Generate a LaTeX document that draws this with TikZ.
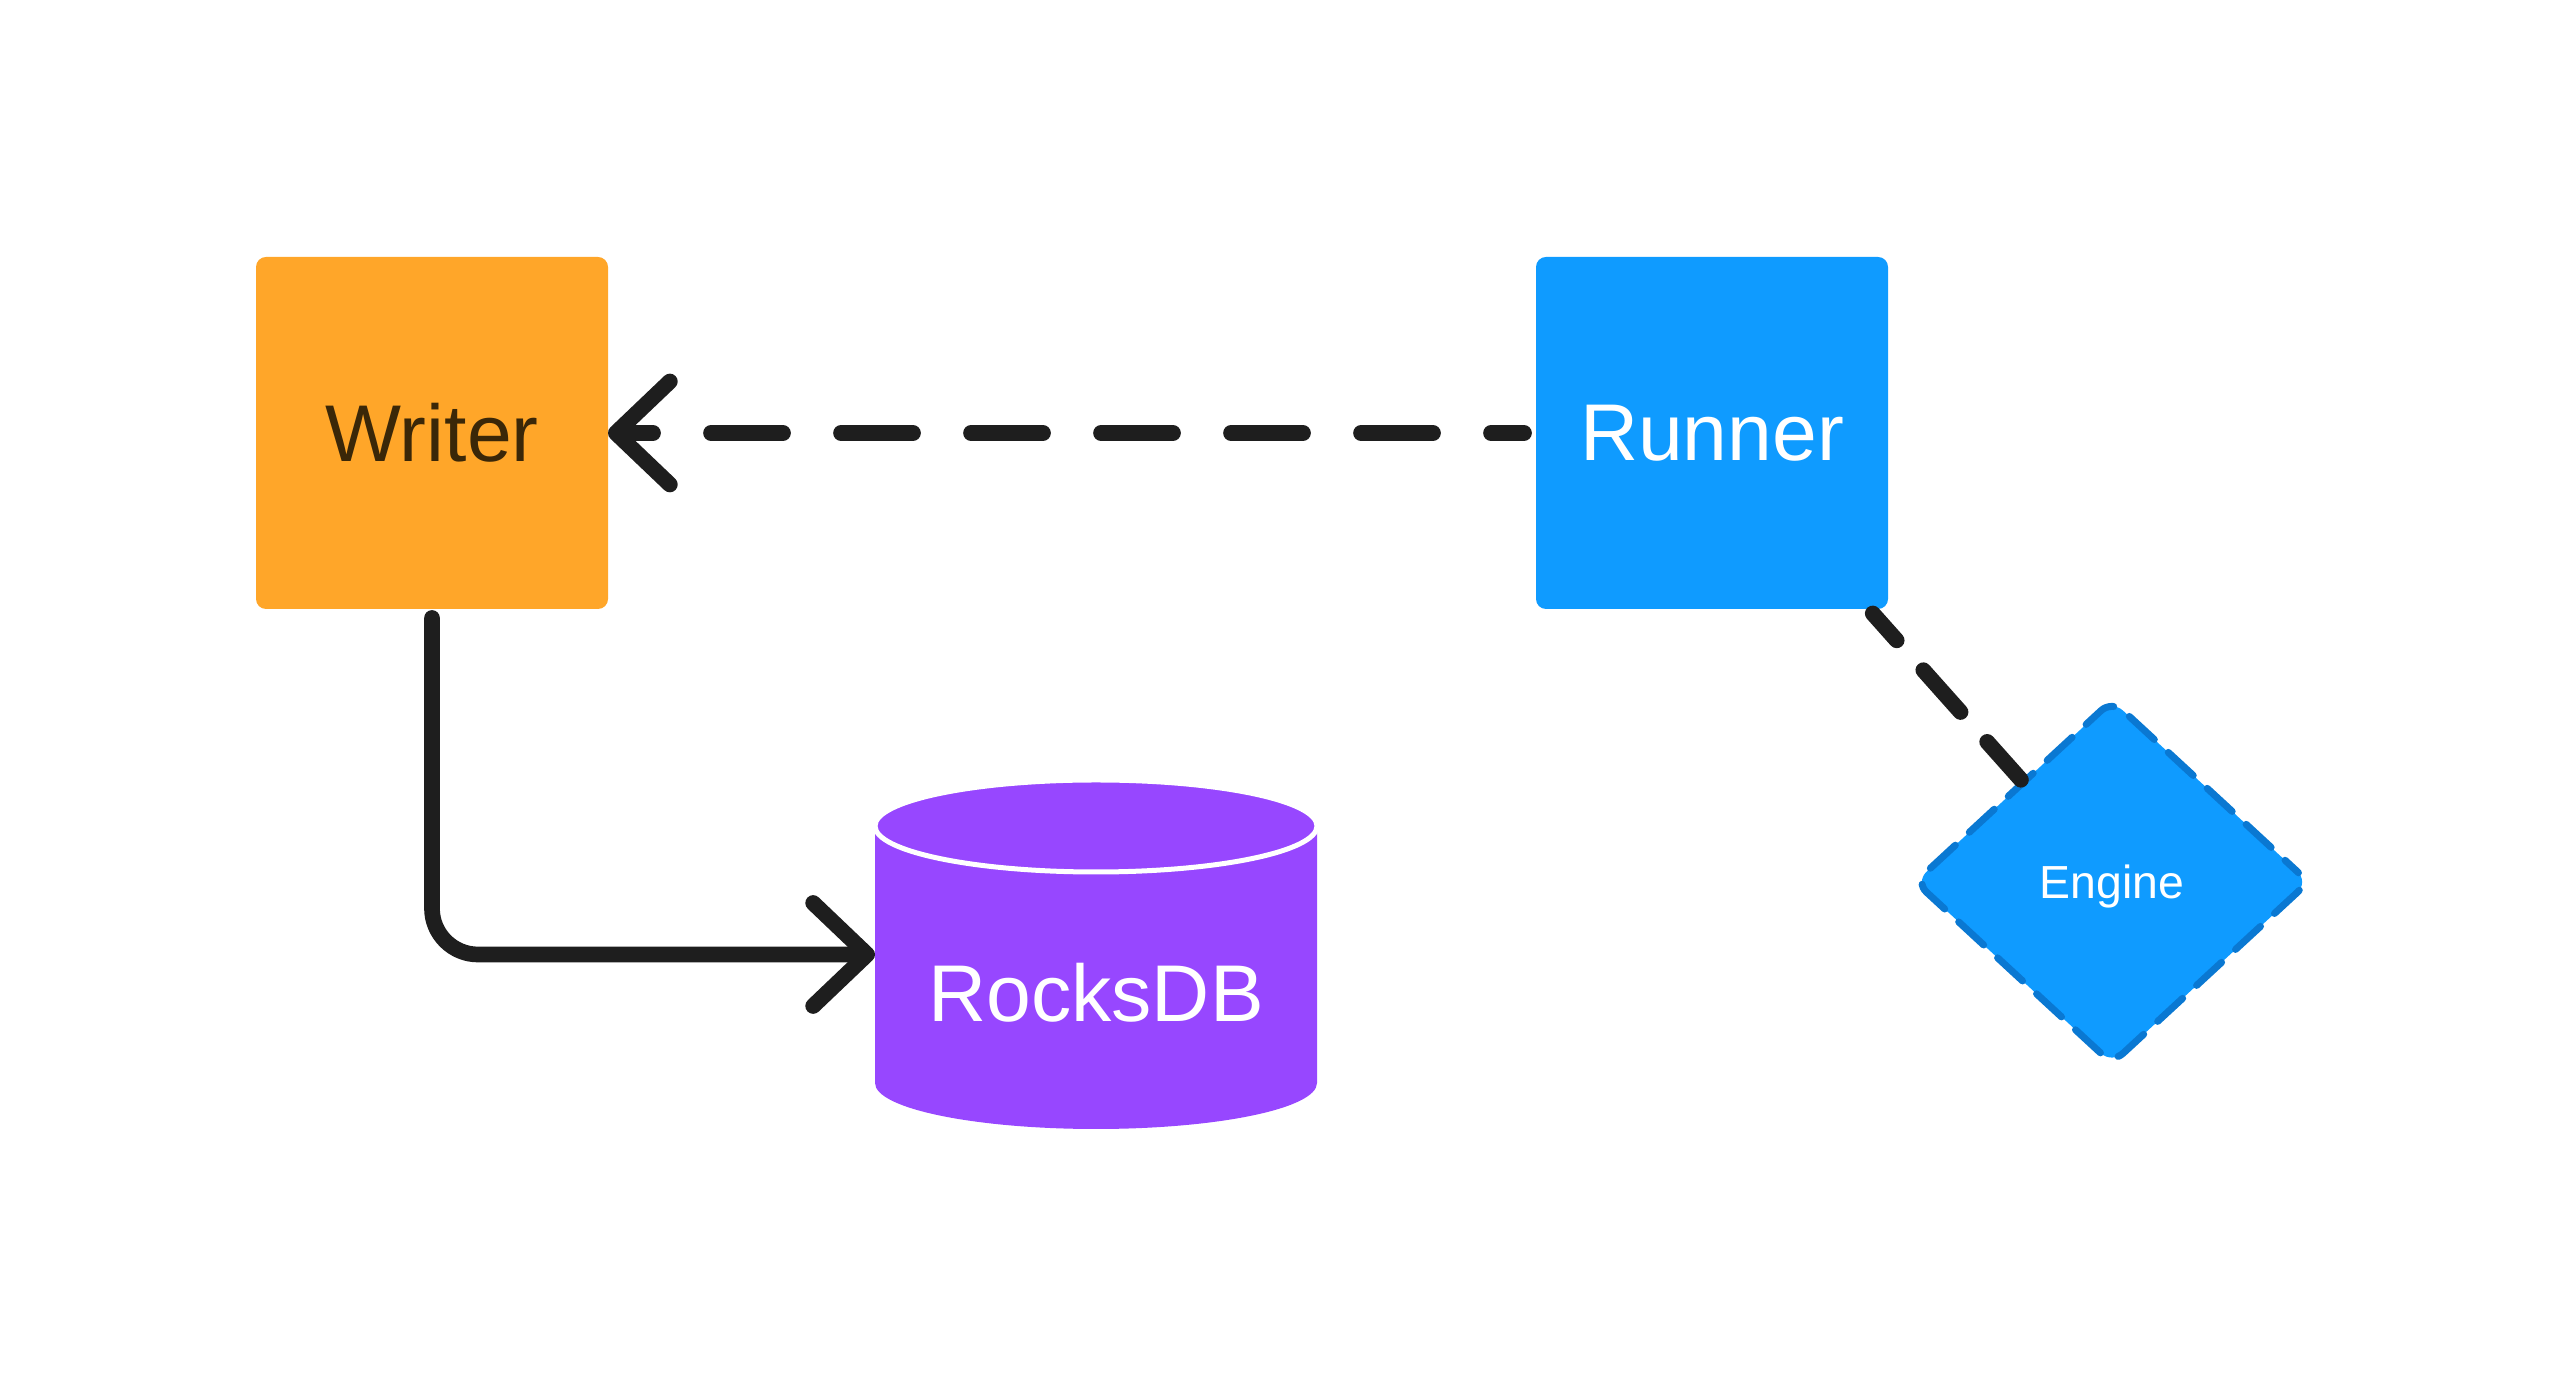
\documentclass[tikz,border=0pt]{standalone}
\usepackage{fontspec}
\setmainfont{Liberation Sans}
\usetikzlibrary{arrows.meta}
\usetikzlibrary{shapes.geometric}

\definecolor{writerorange}{HTML}{FFA629}
\definecolor{writertext}{HTML}{3A2708}
\definecolor{runnerblue}{HTML}{0F9BFF}
\definecolor{engineedge}{HTML}{0A78D2}
\definecolor{rockspurple}{HTML}{9747FF}
\definecolor{linkblack}{HTML}{1E1E1E}

\tikzset{
  service/.style={rectangle, rounded corners=0.1cm, minimum width=3.52cm,
    minimum height=3.52cm, inner sep=0pt, outer sep=0pt,
    font=\fontsize{22.9}{27}\selectfont},
  link/.style={draw=linkblack, line width=0.157cm, line cap=round, line join=round},
  barb/.style={-{Straight Barb[length=0.54cm, width=1.03cm, round]}},
}

\begin{document}
\begin{tikzpicture}
  \useasboundingbox (0,0) rectangle (25.64,13.86);

  \node[service, fill=writerorange, text=writertext] (Writer) at (4.32,9.53) {Writer};
  \node[service, fill=runnerblue, text=white] (Runner) at (17.12,9.53) {Runner};
  \node[diamond, fill=runnerblue, draw=engineedge, line width=0.07cm,
    dash pattern=on 0.34cm off 0.19cm, dash phase=0.17cm, line cap=round,
    rounded corners=0.15cm, minimum width=3.96cm, minimum height=3.66cm,
    inner sep=0pt, text depth=0pt, text=white,
    font=\fontsize{13.2}{16}\selectfont] (Engine) at (21.12,5.04) {Engine};

  \node[minimum width=4.42cm, minimum height=2.57cm, inner sep=0pt, outer sep=0pt]
    (RocksDB) at (10.96,4.315) {};
  \fill[rockspurple] (RocksDB.north west) -- (RocksDB.south west)
    arc[start angle=180, end angle=360, x radius=2.21cm, y radius=0.46cm]
    -- (RocksDB.north east) -- cycle;
  \filldraw[fill=rockspurple, draw=white, line width=0.05cm] (RocksDB.north)
    ellipse[x radius=2.21cm, y radius=0.46cm];
  \node[text=white, inner sep=0pt, font=\fontsize{22.9}{27}\selectfont]
    (RocksDBlabel) at ([yshift=-0.385cm]RocksDB.center) {RocksDB};

  \draw[link, barb, dash pattern=on 0.72cm off 0.58cm, dash phase=0.39cm,
    shorten <=0.12cm] (Runner) -- (Writer);
  \draw[link, barb, rounded corners=0.46cm, shorten <=0.09cm] (Writer) |- (RocksDB.west);
  \draw[link, dash pattern=on 0.56cm off 0.40cm, dash phase=0.20cm,
    shorten <=0.06cm] (Runner) -- (Engine);
\end{tikzpicture}
\end{document}
